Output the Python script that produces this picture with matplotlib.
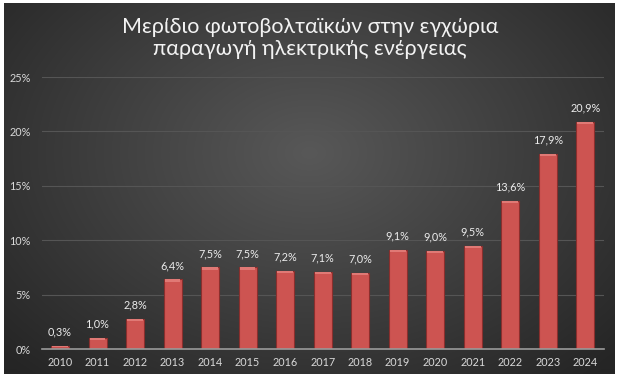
import numpy as np
import matplotlib
matplotlib.use("Agg")
import matplotlib.pyplot as plt
from matplotlib.patches import Rectangle

years = ["2010", "2011", "2012", "2013", "2014", "2015", "2016", "2017",
         "2018", "2019", "2020", "2021", "2022", "2023", "2024"]
share = [0.3, 1.0, 2.8, 6.4, 7.5, 7.5, 7.2, 7.1, 7.0, 9.1, 9.0, 9.5, 13.6, 17.9, 20.9]
yticks = [0, 5, 10, 15, 20, 25]
title = "Μερίδιο φωτοβολταϊκών στην εγχώρια\nπαραγωγή ηλεκτρικής ενέργειας"

W, H = 620, 382
fig = plt.figure(figsize=(W / 100, H / 100), dpi=100)
fig.patch.set_facecolor("white")

# background gradient panel
bg = fig.add_axes([4 / W, 1 - 374 / H, 611 / W, 371 / H])
bg.set_axis_off()
yy, xx = np.mgrid[0:371, 0:611]
cx, cy = 305, 150
r = np.sqrt(((xx - cx) / 420) ** 2 + ((yy - cy) / 300) ** 2)
r = np.clip(r, 0, 1)
c_in = np.array([0x58, 0x58, 0x58]) / 255
c_out = np.array([0x25, 0x25, 0x25]) / 255
img = c_in[None, None, :] * (1 - r[..., None]) + c_out[None, None, :] * r[..., None]
bg.imshow(img, aspect="auto", extent=[0, 1, 0, 1], interpolation="bilinear")
bg.set_xlim(0, 1)
bg.set_ylim(0, 1)

ax = fig.add_axes([42 / W, 1 - 349 / H, (604 - 42) / W, (349 - 77) / H])
ax.patch.set_alpha(0)
x = np.arange(len(years))
bars = ax.bar(x, share, width=0.48, color="#cd5451", edgecolor="#8a2f2d",
              linewidth=0.8, zorder=3)
# subtle top bevel
for b in bars:
    bx, bw, bh = b.get_x(), b.get_width(), b.get_height()
    ax.add_patch(Rectangle((bx + 0.03, bh), bw - 0.06, -min(0.2, bh * 0.4),
                           facecolor="#e07975", edgecolor="none", zorder=4))
for xi, v in zip(x, share):
    ax.annotate(f"{v:.1f}%".replace(".", ","), (xi, v), xytext=(0, 6),
                textcoords="offset points", ha="center", va="bottom",
                color="#ececec", fontsize=7.8, family="Lato")

ax.set_xlim(-0.48, 14.5)
ax.set_ylim(0, 25)
ax.set_yticks(yticks)
ax.set_yticklabels([f"{t}%" for t in yticks])
ax.set_xticks(x)
ax.set_xticklabels(years)
ax.tick_params(axis="both", length=0, colors="#d9d9d9", labelsize=7.8)
ax.tick_params(axis="y", pad=8)
ax.tick_params(axis="x", pad=6)
for lbl in ax.get_xticklabels() + ax.get_yticklabels():
    lbl.set_family("Lato")
ax.grid(axis="y", color="#555555", linewidth=0.8, zorder=0)
for s in ["top", "right", "left"]:
    ax.spines[s].set_visible(False)
ax.spines["bottom"].set_color("#9a9a9a")
ax.spines["bottom"].set_linewidth(1.2)
ax.spines["bottom"].set_zorder(5)

fig.text(0.5, 1 - 38 / H, title, ha="center", va="center", color="#f2f2f2",
         fontsize=15.5, family="Lato", linespacing=1.12)

fig.savefig("out.png", dpi=100)
